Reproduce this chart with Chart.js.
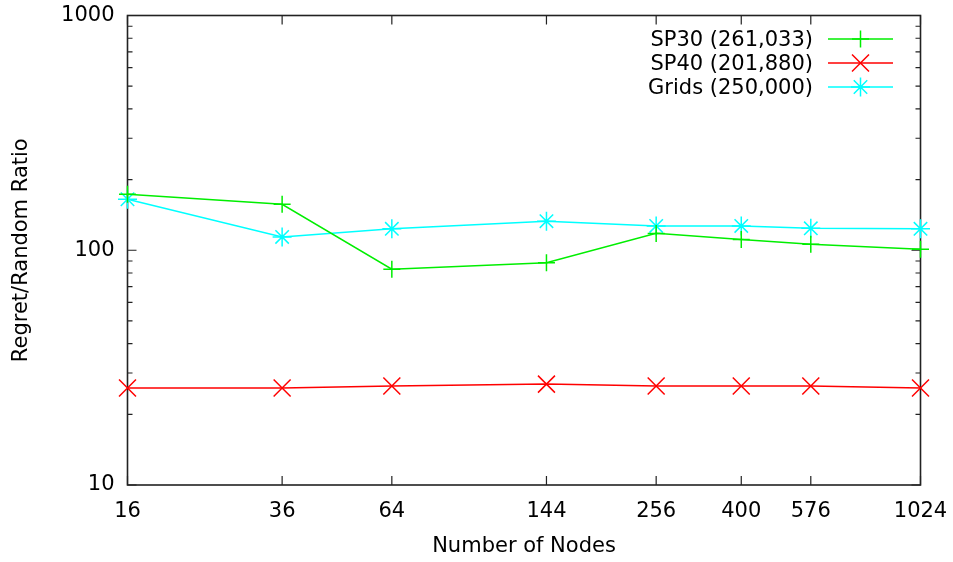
<!DOCTYPE html>
<html>
<head>
<meta charset="utf-8">
<script src="https://cdn.jsdelivr.net/npm/chart.js@4/dist/chart.umd.min.js"></script>
<style>
  html, body { margin: 0; padding: 0; background: #fff; }
  canvas { display: block; }
</style>
</head>
<body>
<canvas id="chart" width="953" height="562"></canvas>
<script>
// Number of nodes (x positions, log scale)
const nodes = [16, 36, 64, 144, 256, 400, 576, 1024];

// Regret/Random ratio per topology
const sp30  = [173, 157, 83, 88.4, 118, 111, 106, 101];
const sp40  = [25.9, 25.9, 26.4, 26.9, 26.4, 26.4, 26.4, 25.9];
const grids = [165, 114, 123.4, 133, 127, 127, 124, 123.4];

const seriesNames = ['SP30 (261,033)', 'SP40 (201,880)', 'Grids (250,000)'];
const seriesColors = ['#00ee00', '#ff0000', '#00ffff'];
const seriesStyles = ['cross', 'crossRot', 'star'];
const seriesRadii = [8.5, 12, 9.5];

// Y axis tick labels and minor tick multipliers
const yTicks = [10, 100, 1000];
const yMinor = [2, 3, 4, 5, 6, 7, 8, 9];

const FONT = { family: 'DejaVu Sans', size: 21 };
const LINE_W = 1.5;

function toPoints(vals) {
  return nodes.map((n, i) => ({ x: n, y: vals[i] }));
}

// Drop the label overhang padding so the plot box keeps its fixed margins
function noOverhang(s) {
  s.paddingTop = 0; s.paddingBottom = 0; s.paddingLeft = 0; s.paddingRight = 0;
}

// Frame with inward tick marks on all four sides (gnuplot style)
const framePlugin = {
  id: 'frame',
  beforeDatasetsDraw(chart) {
    const { ctx, chartArea: a, scales } = chart;
    const xs = scales.x, ys = scales.y;
    ctx.save();
    ctx.strokeStyle = '#222';
    ctx.lineWidth = 1.2;
    ctx.beginPath();
    yTicks.forEach(v => {
      const p = ys.getPixelForValue(v);
      ctx.moveTo(a.left, p); ctx.lineTo(a.left + 9, p);
      ctx.moveTo(a.right, p); ctx.lineTo(a.right - 9, p);
    });
    yTicks.slice(0, -1).forEach(dec => {
      yMinor.forEach(m => {
        const p = ys.getPixelForValue(dec * m);
        ctx.moveTo(a.left, p); ctx.lineTo(a.left + 5, p);
        ctx.moveTo(a.right, p); ctx.lineTo(a.right - 5, p);
      });
    });
    nodes.forEach(v => {
      const p = xs.getPixelForValue(v);
      ctx.moveTo(p, a.bottom); ctx.lineTo(p, a.bottom - 9);
      ctx.moveTo(p, a.top); ctx.lineTo(p, a.top + 9);
    });
    ctx.stroke();
    ctx.lineWidth = 1.6;
    ctx.strokeRect(a.left, a.top, a.right - a.left, a.bottom - a.top);
    ctx.restore();
  }
};

// Key in the top-right corner: label, line sample, marker
const keyPlugin = {
  id: 'key',
  afterDatasetsDraw(chart) {
    const { ctx } = chart;
    ctx.save();
    ctx.font = `${FONT.size}px ${FONT.family}`;
    ctx.textAlign = 'right';
    ctx.textBaseline = 'middle';
    seriesNames.forEach((name, i) => {
      const y = 39 + i * 24;
      const color = seriesColors[i];
      ctx.fillStyle = '#000';
      ctx.fillText(name, 813, y + 1.5);
      ctx.strokeStyle = color;
      ctx.fillStyle = color;
      ctx.lineWidth = LINE_W;
      ctx.beginPath();
      ctx.moveTo(828, y); ctx.lineTo(893, y);
      ctx.stroke();
      Chart.helpers.drawPoint(ctx, {
        pointStyle: seriesStyles[i], radius: seriesRadii[i], rotation: 0, borderWidth: LINE_W
      }, 860.5, y);
    });
    ctx.restore();
  }
};

function series(i, vals) {
  const color = seriesColors[i], r = seriesRadii[i];
  return {
    label: seriesNames[i], data: toPoints(vals),
    borderColor: color, backgroundColor: color,
    pointBorderColor: color, pointBackgroundColor: color,
    borderWidth: LINE_W, pointBorderWidth: LINE_W,
    pointStyle: seriesStyles[i], pointRadius: r, pointHoverRadius: r,
    tension: 0, fill: false, clip: false
  };
}

new Chart(document.getElementById('chart'), {
  type: 'line',
  data: {
    datasets: [series(0, sp30), series(1, sp40), series(2, grids)]
  },
  options: {
    responsive: false,
    animation: false,
    events: [],
    layout: { padding: { top: 15.5, right: 32.5, left: 0, bottom: 0 } },
    plugins: { legend: { display: false }, tooltip: { enabled: false } },
    scales: {
      x: {
        type: 'logarithmic',
        min: 16, max: 1024,
        afterBuildTicks: s => { s.ticks = nodes.map(v => ({ value: v })); },
        afterFit: s => { s.height = 77; noOverhang(s); },
        grid: { display: false, drawTicks: false },
        border: { display: false },
        ticks: {
          autoSkip: false, maxRotation: 0, padding: 14,
          color: '#000', font: FONT,
          callback: v => String(v)
        },
        title: {
          display: true, text: 'Number of Nodes', color: '#000', font: FONT,
          padding: { top: 0, bottom: 3 }
        }
      },
      y: {
        type: 'logarithmic',
        min: 10, max: 1000,
        afterBuildTicks: s => { s.ticks = yTicks.map(v => ({ value: v })); },
        afterFit: s => { s.width = 127.5; noOverhang(s); },
        grid: { display: false, drawTicks: false },
        border: { display: false },
        ticks: {
          autoSkip: false, padding: 13,
          color: '#000', font: FONT,
          callback: v => String(v)
        },
        title: {
          display: true, text: 'Regret/Random Ratio', color: '#000', font: FONT,
          padding: { top: 9, bottom: 0 }
        }
      }
    }
  },
  plugins: [framePlugin, keyPlugin]
});
</script>
</body>
</html>
